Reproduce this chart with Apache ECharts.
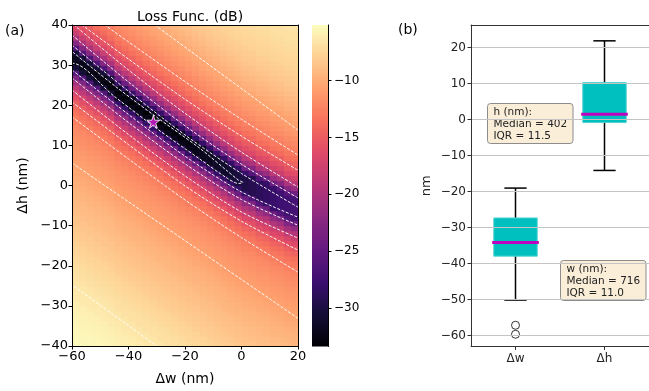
<!DOCTYPE html>
<html><head><meta charset="utf-8">
<script src="https://cdn.jsdelivr.net/npm/echarts@6/dist/echarts.min.js"></script>
<style>html,body{margin:0;padding:0;background:#fff}#c{width:649px;height:391px}</style>
</head><body><div id="c"></div><script>
// ---------- Panel (a): loss map, cell centres (nm) ----------
const dwCenters = [-58.75,-56.25,-53.75,-51.25,-48.75,-46.25,-43.75,-41.25,-38.75,-36.25,-33.75,-31.25,-28.75,-26.25,-23.75,-21.25,
                   -18.75,-16.25,-13.75,-11.25,-8.75,-6.25,-3.75,-1.25,1.25,3.75,6.25,8.75,11.25,13.75,16.25,18.75];
const dhCenters = [-39.375,-38.125,-36.875,-35.625,-34.375,-33.125,-31.875,-30.625,-29.375,-28.125,-26.875,-25.625,-24.375,-23.125,-21.875,-20.625,
                   -19.375,-18.125,-16.875,-15.625,-14.375,-13.125,-11.875,-10.625,-9.375,-8.125,-6.875,-5.625,-4.375,-3.125,-1.875,-0.625,
                   0.625,1.875,3.125,4.375,5.625,6.875,8.125,9.375,10.625,11.875,13.125,14.375,15.625,16.875,18.125,19.375,
                   20.625,21.875,23.125,24.375,25.625,26.875,28.125,29.375,30.625,31.875,33.125,34.375,35.625,36.875,38.125,39.375];
// loss (dB): one list per Δw column, from Δh = -39.375 up to 39.375
const lossColumns = [
 [-5.3,-5.4,-5.5,-5.5,-5.6,-5.7,-5.8,-5.9,-6,-6.2,-6.3,-6.4,-6.5,-6.7,-6.8,-7,-7.1,-7.3,-7.5,-7.6,-7.8,-8,-8.2,-8.3,-8.5,-8.6,-8.8,-9,-9.1,-9.3,-9.4,-9.6,-9.8,-10,-10.2,-10.4,-10.6,-10.8,-11,-11.2,-11.4,-11.6,-11.9,-12.1,-12.5,-12.9,-13.4,-14.1,-14.9,-15.9,-17.1,-18.6,-20.5,-22.9,-26.1,-30.4,-32,-32,-30.4,-26.1,-22.6,-20,-18,-16.6],
 [-5.4,-5.5,-5.5,-5.6,-5.7,-5.8,-5.9,-6,-6.2,-6.3,-6.4,-6.5,-6.7,-6.8,-7,-7.1,-7.3,-7.5,-7.6,-7.8,-8,-8.2,-8.3,-8.5,-8.6,-8.8,-9,-9.1,-9.3,-9.4,-9.6,-9.8,-10,-10.2,-10.4,-10.6,-10.8,-11,-11.2,-11.4,-11.6,-11.9,-12.1,-12.5,-12.9,-13.4,-14.1,-14.9,-15.9,-17.1,-18.6,-20.5,-22.9,-26.1,-30.4,-32.2,-32.2,-30.4,-26.1,-22.6,-20,-18,-16.6,-15.6],
 [-5.5,-5.5,-5.6,-5.7,-5.8,-5.9,-6,-6.2,-6.3,-6.4,-6.5,-6.7,-6.8,-7,-7.1,-7.3,-7.5,-7.6,-7.8,-8,-8.2,-8.3,-8.5,-8.6,-8.8,-9,-9.1,-9.3,-9.4,-9.6,-9.8,-10,-10.2,-10.4,-10.6,-10.8,-11,-11.2,-11.4,-11.6,-11.9,-12.1,-12.5,-12.9,-13.4,-14.1,-14.9,-15.9,-17.1,-18.6,-20.5,-22.9,-26.1,-30.4,-32.4,-32.4,-30.4,-26.1,-22.6,-20,-18,-16.6,-15.6,-14.8],
 [-5.5,-5.6,-5.7,-5.8,-5.9,-6,-6.2,-6.3,-6.4,-6.5,-6.7,-6.8,-7,-7.1,-7.3,-7.5,-7.6,-7.8,-8,-8.2,-8.3,-8.5,-8.6,-8.8,-9,-9.1,-9.3,-9.4,-9.6,-9.8,-10,-10.2,-10.4,-10.6,-10.8,-11,-11.2,-11.4,-11.6,-11.9,-12.1,-12.5,-12.9,-13.4,-14.1,-14.9,-15.9,-17.1,-18.6,-20.5,-22.9,-26.1,-30.4,-32.6,-32.6,-30.4,-26.1,-22.6,-20,-18,-16.6,-15.6,-14.8,-13.9],
 [-5.6,-5.7,-5.8,-5.9,-6,-6.2,-6.3,-6.4,-6.5,-6.7,-6.8,-7,-7.1,-7.3,-7.5,-7.6,-7.8,-8,-8.2,-8.3,-8.5,-8.6,-8.8,-9,-9.1,-9.3,-9.4,-9.6,-9.8,-10,-10.2,-10.4,-10.6,-10.8,-11,-11.2,-11.4,-11.6,-11.9,-12.1,-12.5,-12.9,-13.4,-14.1,-14.9,-15.9,-17.1,-18.6,-20.5,-22.9,-26.1,-30.4,-32.8,-32.8,-30.4,-26.1,-22.6,-20,-18,-16.6,-15.6,-14.8,-13.9,-13.3],
 [-5.7,-5.8,-5.9,-6,-6.2,-6.3,-6.4,-6.5,-6.7,-6.8,-7,-7.1,-7.3,-7.5,-7.6,-7.8,-8,-8.2,-8.3,-8.5,-8.6,-8.8,-9,-9.1,-9.3,-9.4,-9.6,-9.8,-10,-10.2,-10.4,-10.6,-10.8,-11,-11.2,-11.4,-11.6,-11.9,-12.1,-12.5,-12.9,-13.4,-14.1,-14.9,-15.9,-17.1,-18.6,-20.5,-22.9,-26.1,-30.4,-33,-33,-30.4,-26.1,-22.6,-20,-18,-16.6,-15.6,-14.8,-13.9,-13.3,-12.8],
 [-5.9,-6,-6.1,-6.2,-6.4,-6.5,-6.6,-6.8,-6.9,-7,-7.2,-7.4,-7.5,-7.7,-7.9,-8.1,-8.2,-8.4,-8.6,-8.7,-8.9,-9,-9.2,-9.4,-9.5,-9.7,-9.9,-10.1,-10.3,-10.5,-10.7,-10.9,-11.1,-11.3,-11.5,-11.7,-12,-12.3,-12.7,-13.1,-13.7,-14.5,-15.4,-16.5,-17.8,-19.5,-21.6,-24.3,-28.2,-32.1,-33.1,-32.1,-28.2,-24.2,-21.2,-18.9,-17.2,-16.1,-15.2,-14.4,-13.6,-13,-12.5,-12.1],
 [-6,-6.1,-6.2,-6.4,-6.5,-6.6,-6.8,-6.9,-7,-7.2,-7.4,-7.5,-7.7,-7.9,-8.1,-8.2,-8.4,-8.6,-8.7,-8.9,-9,-9.2,-9.4,-9.5,-9.7,-9.9,-10.1,-10.3,-10.5,-10.7,-10.9,-11.1,-11.3,-11.5,-11.7,-12,-12.3,-12.7,-13.1,-13.7,-14.5,-15.4,-16.5,-17.8,-19.5,-21.6,-24.3,-28.2,-32.1,-33.2,-32.1,-28.2,-24.2,-21.2,-18.9,-17.2,-16.1,-15.2,-14.4,-13.6,-13,-12.5,-12.1,-11.7],
 [-6.1,-6.2,-6.4,-6.5,-6.6,-6.8,-6.9,-7,-7.2,-7.4,-7.5,-7.7,-7.9,-8.1,-8.2,-8.4,-8.6,-8.7,-8.9,-9,-9.2,-9.4,-9.5,-9.7,-9.9,-10.1,-10.3,-10.5,-10.7,-10.9,-11.1,-11.3,-11.5,-11.7,-12,-12.3,-12.7,-13.1,-13.7,-14.5,-15.4,-16.5,-17.8,-19.5,-21.6,-24.3,-28.2,-32.1,-33.3,-32.1,-28.2,-24.2,-21.2,-18.9,-17.2,-16.1,-15.2,-14.4,-13.6,-13,-12.5,-12.1,-11.7,-11.3],
 [-6.2,-6.4,-6.5,-6.6,-6.8,-6.9,-7,-7.2,-7.4,-7.5,-7.7,-7.9,-8.1,-8.2,-8.4,-8.6,-8.7,-8.9,-9,-9.2,-9.4,-9.5,-9.7,-9.9,-10.1,-10.3,-10.5,-10.7,-10.9,-11.1,-11.3,-11.5,-11.7,-12,-12.3,-12.7,-13.1,-13.7,-14.5,-15.4,-16.5,-17.8,-19.5,-21.6,-24.3,-28.2,-32.1,-33.3,-32.1,-28.2,-24.2,-21.2,-18.9,-17.2,-16.1,-15.2,-14.4,-13.6,-13,-12.5,-12.1,-11.7,-11.3,-11],
 [-6.4,-6.5,-6.6,-6.8,-6.9,-7,-7.2,-7.4,-7.5,-7.7,-7.9,-8.1,-8.2,-8.4,-8.6,-8.7,-8.9,-9,-9.2,-9.4,-9.5,-9.7,-9.9,-10.1,-10.3,-10.5,-10.7,-10.9,-11.1,-11.3,-11.5,-11.7,-12,-12.3,-12.7,-13.1,-13.7,-14.5,-15.4,-16.5,-17.8,-19.5,-21.6,-24.3,-28.2,-32.1,-33.4,-32.1,-28.2,-24.2,-21.2,-18.9,-17.2,-16.1,-15.2,-14.4,-13.6,-13,-12.5,-12.1,-11.7,-11.3,-11,-10.6],
 [-6.5,-6.6,-6.8,-6.9,-7,-7.2,-7.4,-7.5,-7.7,-7.9,-8.1,-8.2,-8.4,-8.6,-8.7,-8.9,-9,-9.2,-9.4,-9.5,-9.7,-9.9,-10.1,-10.3,-10.5,-10.7,-10.9,-11.1,-11.3,-11.5,-11.7,-12,-12.3,-12.7,-13.1,-13.7,-14.5,-15.4,-16.5,-17.8,-19.5,-21.6,-24.3,-28.2,-32.1,-33.4,-32.1,-28.2,-24.2,-21.2,-18.9,-17.2,-16.1,-15.2,-14.4,-13.6,-13,-12.5,-12.1,-11.7,-11.3,-11,-10.6,-10.3],
 [-6.6,-6.8,-6.9,-7,-7.2,-7.4,-7.5,-7.7,-7.9,-8.1,-8.2,-8.4,-8.6,-8.7,-8.9,-9,-9.2,-9.4,-9.5,-9.7,-9.9,-10.1,-10.3,-10.5,-10.7,-10.9,-11.1,-11.3,-11.5,-11.7,-12,-12.3,-12.7,-13.1,-13.7,-14.5,-15.4,-16.5,-17.8,-19.5,-21.6,-24.3,-28.2,-32.1,-33.4,-32.1,-28.2,-24.2,-21.2,-18.9,-17.2,-16.1,-15.2,-14.4,-13.6,-13,-12.5,-12.1,-11.7,-11.3,-11,-10.6,-10.3,-10],
 [-6.8,-6.9,-7,-7.2,-7.4,-7.5,-7.7,-7.9,-8.1,-8.2,-8.4,-8.6,-8.7,-8.9,-9,-9.2,-9.4,-9.5,-9.7,-9.9,-10.1,-10.3,-10.5,-10.7,-10.9,-11.1,-11.3,-11.5,-11.7,-12,-12.3,-12.7,-13.1,-13.7,-14.5,-15.4,-16.5,-17.8,-19.5,-21.6,-24.3,-28.2,-32.1,-33.3,-32.1,-28.2,-24.2,-21.2,-18.9,-17.2,-16.1,-15.2,-14.4,-13.6,-13,-12.5,-12.1,-11.7,-11.3,-11,-10.6,-10.3,-10,-9.7],
 [-6.9,-7,-7.2,-7.4,-7.5,-7.7,-7.9,-8.1,-8.2,-8.4,-8.6,-8.7,-8.9,-9,-9.2,-9.4,-9.5,-9.7,-9.9,-10.1,-10.3,-10.5,-10.7,-10.9,-11.1,-11.3,-11.5,-11.7,-12,-12.3,-12.7,-13.1,-13.7,-14.5,-15.4,-16.5,-17.8,-19.5,-21.6,-24.3,-28.2,-32.1,-33.2,-32.1,-28.2,-24.2,-21.2,-18.9,-17.2,-16.1,-15.2,-14.4,-13.6,-13,-12.5,-12.1,-11.7,-11.3,-11,-10.6,-10.3,-10,-9.7,-9.4],
 [-7,-7.2,-7.4,-7.5,-7.7,-7.9,-8.1,-8.2,-8.4,-8.6,-8.7,-8.9,-9,-9.2,-9.4,-9.5,-9.7,-9.9,-10.1,-10.3,-10.5,-10.7,-10.9,-11.1,-11.3,-11.5,-11.7,-12,-12.3,-12.7,-13.1,-13.7,-14.5,-15.4,-16.5,-17.8,-19.5,-21.6,-24.3,-28.2,-32.1,-33,-32.1,-28.2,-24.2,-21.2,-18.9,-17.2,-16.1,-15.2,-14.4,-13.6,-13,-12.5,-12.1,-11.7,-11.3,-11,-10.6,-10.3,-10,-9.7,-9.4,-9.1],
 [-7.2,-7.4,-7.5,-7.7,-7.9,-8.1,-8.2,-8.4,-8.6,-8.7,-8.9,-9,-9.2,-9.4,-9.5,-9.7,-9.9,-10.1,-10.3,-10.5,-10.7,-10.9,-11.1,-11.3,-11.5,-11.7,-12,-12.3,-12.7,-13.1,-13.7,-14.5,-15.4,-16.5,-17.8,-19.5,-21.6,-24.3,-28.2,-32.1,-32.8,-32.1,-28.2,-24.2,-21.2,-18.9,-17.2,-16.1,-15.2,-14.4,-13.6,-13,-12.5,-12.1,-11.7,-11.3,-11,-10.6,-10.3,-10,-9.7,-9.4,-9.1,-8.8],
 [-7.4,-7.5,-7.7,-7.9,-8.1,-8.2,-8.4,-8.6,-8.7,-8.9,-9,-9.2,-9.4,-9.5,-9.7,-9.9,-10.1,-10.3,-10.5,-10.7,-10.9,-11.1,-11.3,-11.5,-11.7,-12,-12.3,-12.7,-13.1,-13.7,-14.5,-15.4,-16.5,-17.8,-19.5,-21.6,-24.3,-28.2,-32.1,-32.5,-32.1,-28.2,-24.2,-21.2,-18.9,-17.2,-16.1,-15.2,-14.4,-13.6,-13,-12.5,-12.1,-11.7,-11.3,-11,-10.6,-10.3,-10,-9.7,-9.4,-9.1,-8.8,-8.5],
 [-7.5,-7.7,-7.9,-8.1,-8.2,-8.4,-8.6,-8.7,-8.9,-9,-9.2,-9.4,-9.5,-9.7,-9.9,-10.1,-10.3,-10.5,-10.7,-10.9,-11.1,-11.3,-11.5,-11.7,-12,-12.3,-12.7,-13.1,-13.7,-14.5,-15.4,-16.5,-17.8,-19.5,-21.6,-24.3,-28.2,-32.1,-32.2,-32.1,-28.2,-24.2,-21.2,-18.9,-17.2,-16.1,-15.2,-14.4,-13.6,-13,-12.5,-12.1,-11.7,-11.3,-11,-10.6,-10.3,-10,-9.7,-9.4,-9.1,-8.8,-8.5,-8.3],
 [-7.7,-7.9,-8.1,-8.2,-8.4,-8.6,-8.7,-8.9,-9,-9.2,-9.4,-9.5,-9.7,-9.9,-10.1,-10.3,-10.5,-10.7,-10.9,-11.1,-11.3,-11.5,-11.7,-12,-12.3,-12.7,-13.1,-13.7,-14.5,-15.4,-16.5,-17.8,-19.5,-21.6,-24.3,-28.2,-31.9,-31.9,-31.9,-28.2,-24.2,-21.2,-18.9,-17.2,-16.1,-15.2,-14.4,-13.6,-13,-12.5,-12.1,-11.7,-11.3,-11,-10.6,-10.3,-10,-9.7,-9.4,-9.1,-8.8,-8.5,-8.3,-8.1],
 [-7.9,-8.1,-8.2,-8.4,-8.6,-8.7,-8.9,-9,-9.2,-9.4,-9.5,-9.7,-9.9,-10.1,-10.3,-10.5,-10.7,-10.9,-11.1,-11.3,-11.5,-11.7,-12,-12.3,-12.7,-13.1,-13.7,-14.5,-15.4,-16.5,-17.8,-19.5,-21.6,-24.3,-28.2,-31.4,-31.4,-31.4,-28.2,-24.2,-21.2,-18.9,-17.2,-16.1,-15.2,-14.4,-13.6,-13,-12.5,-12.1,-11.7,-11.3,-11,-10.6,-10.3,-10,-9.7,-9.4,-9.1,-8.8,-8.5,-8.3,-8.1,-7.9],
 [-8.1,-8.2,-8.4,-8.6,-8.7,-8.9,-9,-9.2,-9.4,-9.5,-9.7,-9.9,-10.1,-10.3,-10.5,-10.7,-10.9,-11.1,-11.3,-11.5,-11.7,-12,-12.3,-12.7,-13.1,-13.7,-14.5,-15.4,-16.5,-17.8,-19.5,-21.6,-24.3,-28.2,-31,-31,-31,-28.2,-24.2,-21.2,-18.9,-17.2,-16.1,-15.2,-14.4,-13.6,-13,-12.5,-12.1,-11.7,-11.3,-11,-10.6,-10.3,-10,-9.7,-9.4,-9.1,-8.8,-8.5,-8.3,-8.1,-7.9,-7.7],
 [-8.2,-8.4,-8.6,-8.7,-8.9,-9,-9.2,-9.4,-9.5,-9.7,-9.9,-10.1,-10.3,-10.5,-10.7,-10.9,-11.1,-11.3,-11.5,-11.7,-12,-12.3,-12.7,-13.1,-13.7,-14.5,-15.4,-16.5,-17.8,-19.5,-21.6,-24.3,-28.2,-30.6,-30.6,-30.6,-28.2,-24.2,-21.2,-18.9,-17.2,-16.1,-15.2,-14.4,-13.6,-13,-12.5,-12.1,-11.7,-11.3,-11,-10.6,-10.3,-10,-9.7,-9.4,-9.1,-8.8,-8.5,-8.3,-8.1,-7.9,-7.7,-7.6],
 [-8.4,-8.6,-8.7,-8.9,-9,-9.2,-9.4,-9.5,-9.7,-9.9,-10.1,-10.3,-10.5,-10.7,-10.9,-11.1,-11.3,-11.5,-11.7,-12,-12.3,-12.7,-13.1,-13.7,-14.5,-15.4,-16.5,-17.8,-19.5,-21.6,-24.3,-28.2,-30.2,-30.2,-30.2,-28.2,-24.2,-21.2,-18.9,-17.2,-16.1,-15.2,-14.4,-13.6,-13,-12.5,-12.1,-11.7,-11.3,-11,-10.6,-10.3,-10,-9.7,-9.4,-9.1,-8.8,-8.5,-8.3,-8.1,-7.9,-7.7,-7.6,-7.4],
 [-8.6,-8.7,-8.9,-9,-9.2,-9.4,-9.5,-9.7,-9.9,-10.1,-10.3,-10.5,-10.7,-10.9,-11.1,-11.3,-11.5,-11.7,-12,-12.3,-12.7,-13.1,-13.7,-14.5,-15.4,-16.5,-17.8,-19.5,-21.6,-24.3,-28.2,-29.8,-29.8,-29.8,-28.2,-24.2,-21.2,-18.9,-17.2,-16.1,-15.2,-14.4,-13.6,-13,-12.5,-12.1,-11.7,-11.3,-11,-10.6,-10.3,-10,-9.7,-9.4,-9.1,-8.8,-8.5,-8.3,-8.1,-7.9,-7.7,-7.6,-7.4,-7.3],
 [-8.6,-8.8,-9,-9.1,-9.3,-9.4,-9.6,-9.8,-10,-10.2,-10.4,-10.6,-10.8,-11,-11.2,-11.4,-11.6,-11.9,-12.1,-12.5,-12.9,-13.4,-14.1,-14.9,-15.9,-17.1,-18.6,-20.5,-22.9,-26.1,-29.3,-29.3,-29.3,-29.3,-26.1,-22.6,-20,-18,-16.6,-15.6,-14.8,-13.9,-13.3,-12.8,-12.3,-11.9,-11.5,-11.1,-10.8,-10.5,-10.2,-9.8,-9.5,-9.2,-8.9,-8.7,-8.4,-8.2,-8,-7.8,-7.6,-7.5,-7.3,-7.2],
 [-8.8,-9,-9.1,-9.3,-9.4,-9.6,-9.8,-10,-10.2,-10.4,-10.6,-10.8,-11,-11.2,-11.4,-11.6,-11.9,-12.1,-12.5,-12.9,-13.4,-14.1,-14.9,-15.9,-17.1,-18.6,-20.5,-22.9,-26.1,-28.8,-28.8,-28.8,-28.8,-26.1,-22.6,-20,-18,-16.6,-15.6,-14.8,-13.9,-13.3,-12.8,-12.3,-11.9,-11.5,-11.1,-10.8,-10.5,-10.2,-9.8,-9.5,-9.2,-8.9,-8.7,-8.4,-8.2,-8,-7.8,-7.6,-7.5,-7.3,-7.2,-7],
 [-8.9,-9,-9.2,-9.4,-9.5,-9.7,-9.9,-10.1,-10.3,-10.5,-10.7,-10.9,-11.1,-11.3,-11.5,-11.7,-12,-12.3,-12.7,-13.1,-13.7,-14.5,-15.4,-16.5,-17.8,-19.5,-21.6,-24.3,-28.2,-28.4,-28.4,-28.4,-28.2,-24.2,-21.2,-18.9,-17.2,-16.1,-15.2,-14.4,-13.6,-13,-12.5,-12.1,-11.7,-11.3,-11,-10.6,-10.3,-10,-9.7,-9.4,-9.1,-8.8,-8.5,-8.3,-8.1,-7.9,-7.7,-7.6,-7.4,-7.3,-7.1,-7],
 [-9,-9.2,-9.4,-9.5,-9.7,-9.9,-10.1,-10.3,-10.5,-10.7,-10.9,-11.1,-11.3,-11.5,-11.7,-12,-12.3,-12.7,-13.1,-13.7,-14.5,-15.4,-16.5,-17.8,-19.5,-21.6,-24.3,-28,-28,-28,-28,-28,-24.2,-21.2,-18.9,-17.2,-16.1,-15.2,-14.4,-13.6,-13,-12.5,-12.1,-11.7,-11.3,-11,-10.6,-10.3,-10,-9.7,-9.4,-9.1,-8.8,-8.5,-8.3,-8.1,-7.9,-7.7,-7.6,-7.4,-7.3,-7.1,-7,-6.9],
 [-9.1,-9.3,-9.4,-9.6,-9.8,-10,-10.2,-10.4,-10.6,-10.8,-11,-11.2,-11.4,-11.6,-11.9,-12.1,-12.5,-12.9,-13.4,-14.1,-14.9,-15.9,-17.1,-18.6,-20.5,-22.9,-26.1,-27.6,-27.6,-27.6,-27.6,-26.1,-22.6,-20,-18,-16.6,-15.6,-14.8,-13.9,-13.3,-12.8,-12.3,-11.9,-11.5,-11.1,-10.8,-10.5,-10.2,-9.8,-9.5,-9.2,-8.9,-8.7,-8.4,-8.2,-8,-7.8,-7.6,-7.5,-7.3,-7.2,-7,-6.9,-6.8],
 [-9.3,-9.4,-9.6,-9.8,-10,-10.2,-10.4,-10.6,-10.8,-11,-11.2,-11.4,-11.6,-11.9,-12.1,-12.5,-12.9,-13.4,-14.1,-14.9,-15.9,-17.1,-18.6,-20.5,-22.9,-26.1,-27.3,-27.3,-27.3,-27.3,-26.1,-22.6,-20,-18,-16.6,-15.6,-14.8,-13.9,-13.3,-12.8,-12.3,-11.9,-11.5,-11.1,-10.8,-10.5,-10.2,-9.8,-9.5,-9.2,-8.9,-8.7,-8.4,-8.2,-8,-7.8,-7.6,-7.5,-7.3,-7.2,-7,-6.9,-6.8,-6.7],
 [-9.4,-9.5,-9.7,-9.9,-10.1,-10.3,-10.5,-10.7,-10.9,-11.1,-11.3,-11.5,-11.7,-12,-12.3,-12.7,-13.1,-13.7,-14.5,-15.4,-16.5,-17.8,-19.5,-21.6,-24.3,-27,-27,-27,-27,-27,-24.2,-21.2,-18.9,-17.2,-16.1,-15.2,-14.4,-13.6,-13,-12.5,-12.1,-11.7,-11.3,-11,-10.6,-10.3,-10,-9.7,-9.4,-9.1,-8.8,-8.5,-8.3,-8.1,-7.9,-7.7,-7.6,-7.4,-7.3,-7.1,-7,-6.9,-6.8,-6.6]
];
// contour lines: [Δw, Δh]
const contourLines = [
 [[-62,-23.8],[-28,-41]],
 [[-60,5.6],[20,-33.1]],
 [[-60,17.1],[-40,6.6],[-20,-3.6],[0,-13],[20,-21.6]],
 [[-60,20.8],[-40,10.2],[-20,-0.1],[0,-8.9],[20,-16.1]],
 [[-60,23.8],[-40,12.7],[-20,2.4],[0,-6.6],[20,-13.1]],
 [[-60,26.8],[-40,15.7],[-20,5.4],[0,-3.5],[20,-9.9]],
 [[-60,28.8],[-40,17.7],[-20,7.3],[0,-1.6],[20,-7.9]],
 [[-61,34],[-60,33.4],[-45,24.9],[-30,17],[-15,9.4],[-5,3.6],[-1,1.3],[0.5,0.8],[-1,0.5],[-5,1.8],[-15,6.7],[-30,14.2],[-45,22.2],[-60,30.5],[-61,30]],
 [[-60,35],[-40,23.5],[-20,12.6],[0,3],[20,-5.4]],
 [[-60,37.5],[-40,25.8],[-20,14.9],[0,5.3],[20,-3.1]],
 [[-62,41.5],[-60,40.4],[-40,28.8],[-20,18],[0,8.3],[20,-0.4]],
 [[-58,40.8],[-40,31.5],[-20,21.5],[0,12.3],[20,3.8]],
 [[-50,40.8],[-40,35.8],[-20,25.9],[0,16.5],[20,7.6]],
 [[-32,40.7],[20,13.8]]
];
const optimumPoint = [-31.2, 15.9];
const colorRange = [-33.4, -5.1];
const colorbarTicks = [-30, -25, -20, -15, -10];
const magma = ['#000004','#140e36','#3b0f70','#641a80','#8c2981','#b73779','#de4968','#f7705c','#fe9f6d','#fecf92','#fcfdbf'];

// ---------- Panel (b): box plots ----------
const boxCategories = ['Δw', 'Δh'];
// [lower whisker, Q1, median, Q3, upper whisker]
const boxStats = [[-50.1, -37.9, -34.1, -27.3, -19.0], [-14.1, -0.8, 1.5, 10.3, 21.9]];
const boxOutliers = [[0, -57.1], [0, -59.6]];
const boxTicks = [-60, -50, -40, -30, -20, -10, 0, 10, 20];
const hInfo = ['h (nm):', 'Median = 402', 'IQR = 11.5'];
const wInfo = ['w (nm):', 'Median = 716', 'IQR = 11.0'];

const FONT = 'DejaVu Sans';
const fmt = v => (v < 0 ? '\u2212' + Math.abs(v) : String(v));

const cellData = [];
lossColumns.forEach((col, i) => col.forEach((v, k) => cellData.push([dwCenters[i], dhCenters[k], v])));
const halfW = (dwCenters[1] - dwCenters[0]) / 2;
const halfH = (dhCenters[1] - dhCenters[0]) / 2;

const chart = echarts.init(document.getElementById('c'), null, {renderer: 'canvas'});
const spine = {show: true, onZero: false, lineStyle: {color: '#000', width: 1}};
const spineB = {show: true, onZero: false, lineStyle: {color: '#333', width: 1}};

const series = [
  {
    type: 'custom', xAxisIndex: 0, yAxisIndex: 0, z: 1, clip: true, silent: true,
    data: cellData, encode: {x: 0, y: 1},
    renderItem: (params, api) => {
      const p1 = api.coord([api.value(0) - halfW, api.value(1) + halfH]);
      const p2 = api.coord([api.value(0) + halfW, api.value(1) - halfH]);
      return {type: 'rect', shape: {x: p1[0], y: p1[1], width: p2[0] - p1[0] + 0.6, height: p2[1] - p1[1] + 0.6},
              style: {fill: api.visual('color')}};
    }
  }
];
contourLines.forEach(pts => series.push({
  type: 'line', xAxisIndex: 0, yAxisIndex: 0, z: 3, clip: true, data: pts, showSymbol: false, smooth: 0.3,
  silent: true, lineStyle: {color: '#ffffff', opacity: 0.95, width: 1, type: [3, 1.6]}
}));
series.push({
  type: 'scatter', xAxisIndex: 0, yAxisIndex: 0, z: 4, data: [optimumPoint],
  symbol: 'path://M50,0 L61,35 L98,35 L68,57 L79,91 L50,70 L21,91 L32,57 L2,35 L39,35 Z',
  symbolSize: 13, itemStyle: {color: '#e01ee0', borderColor: '#ffffff', borderWidth: 1}
});
// colorbar
series.push({
  type: 'custom', xAxisIndex: 2, yAxisIndex: 2, z: 1, data: [[0, colorRange[0], colorRange[1]]],
  renderItem: (params, api) => {
    const p1 = api.coord([0, api.value(2)]);
    const p2 = api.coord([1, api.value(1)]);
    return {type: 'rect', shape: {x: p1[0], y: p1[1], width: p2[0] - p1[0], height: p2[1] - p1[1]},
      style: {fill: new echarts.graphic.LinearGradient(0, 1, 0, 0, magma.map((c, i) => ({offset: i / (magma.length - 1), color: c})))}};
  }
});
// box plots
series.push({
  type: 'custom', xAxisIndex: 3, yAxisIndex: 3, z: 3,
  data: boxStats.map((s, i) => [i].concat(s)),
  renderItem: (params, api) => {
    const cx = api.coord([api.value(0), 0])[0];
    const band = api.size([1, 0])[0];
    const y = j => api.coord([api.value(0), api.value(j)])[1];
    const bw = band * 0.244, cw = band * 0.125, mw = band * 0.262;
    const blk = {stroke: '#000', lineWidth: 1.5};
    return {type: 'group', children: [
      {type: 'line', shape: {x1: cx, y1: y(2), x2: cx, y2: y(1)}, style: blk},
      {type: 'line', shape: {x1: cx, y1: y(4), x2: cx, y2: y(5)}, style: blk},
      {type: 'line', shape: {x1: cx - cw, y1: y(1), x2: cx + cw, y2: y(1)}, style: blk},
      {type: 'line', shape: {x1: cx - cw, y1: y(5), x2: cx + cw, y2: y(5)}, style: blk},
      {type: 'rect', shape: {x: cx - bw, y: y(4), width: 2 * bw, height: y(2) - y(4)},
        style: {fill: '#00bfbf', stroke: '#4dd2d2', lineWidth: 1}},
      {type: 'line', shape: {x1: cx - mw, y1: y(3), x2: cx + mw, y2: y(3)}, style: {stroke: '#bf00bf', lineWidth: 3}}
    ]};
  }
});
series.push({
  type: 'scatter', xAxisIndex: 3, yAxisIndex: 3, z: 3, data: boxOutliers, symbol: 'circle', symbolSize: 8,
  itemStyle: {color: 'rgba(0,0,0,0)', borderColor: '#000', borderWidth: 1}
});

function infoBox(lines, left, top, w, h) {
  return {type: 'group', left: left, top: top, children: [
    {type: 'rect', shape: {x: 0, y: 0, width: w, height: h, r: 3},
      style: {fill: 'rgba(245,222,179,0.5)', stroke: '#8c8c8c', lineWidth: 1}},
    {type: 'text', x: 6, y: 2.5, style: {text: lines.join('\n'), font: '10.5px "DejaVu Sans"', fill: '#222', lineHeight: 12}}
  ]};
}

chart.setOption({
  animation: false,
  textStyle: {fontFamily: FONT},
  title: {text: 'Loss Func. (dB)', left: 185, top: 5, textAlign: 'center',
    textStyle: {fontFamily: FONT, fontSize: 14, fontWeight: 'normal', color: '#000'}},
  grid: [
    {left: 72, top: 25, width: 226, height: 321},
    {left: 72, top: 25, width: 226, height: 321, show: false},
    {left: 312, top: 25, width: 16, height: 321.5},
    {left: 471, top: 25, width: 183, height: 321.5}
  ],
  visualMap: {type: 'continuous', show: false, min: colorRange[0], max: colorRange[1], dimension: 2, seriesIndex: 0,
    inRange: {color: magma}},
  xAxis: [
    {type: 'value', gridIndex: 0, min: -60, max: 20, interval: 20, z: 10, axisLine: spine,
     axisTick: {show: true, inside: false, length: 3.5, lineStyle: {color: '#000'}},
     axisLabel: {fontFamily: FONT, fontSize: 13, color: '#000', margin: 4, formatter: fmt},
     splitLine: {show: false}, name: 'Δw (nm)', nameLocation: 'middle', nameGap: 26,
     nameTextStyle: {fontFamily: FONT, fontSize: 14, color: '#000'}},
    {type: 'value', gridIndex: 0, position: 'top', min: -60, max: 20, z: 10, axisLine: spine,
     axisTick: {show: false}, axisLabel: {show: false}, splitLine: {show: false}},
    {type: 'value', gridIndex: 2, min: 0, max: 1, show: false},
    {type: 'category', gridIndex: 3, data: boxCategories, z: 10, axisLine: spineB,
     axisTick: {show: true, alignWithLabel: true, length: 3.5, lineStyle: {color: '#333'}},
     axisLabel: {fontFamily: FONT, fontSize: 12, color: '#222', margin: 6}},
    {type: 'category', gridIndex: 3, position: 'top', data: boxCategories, z: 10, axisLine: spineB,
     axisTick: {show: false}, axisLabel: {show: false}}
  ],
  yAxis: [
    {type: 'value', gridIndex: 0, min: -40, max: 40, interval: 10, z: 10, axisLine: spine,
     axisTick: {show: true, length: 3.5, lineStyle: {color: '#000'}},
     axisLabel: {fontFamily: FONT, fontSize: 13, color: '#000', margin: 4, formatter: fmt},
     splitLine: {show: false}, name: 'Δh (nm)', nameLocation: 'middle', nameGap: 42,
     nameTextStyle: {fontFamily: FONT, fontSize: 14, color: '#000'}},
    {type: 'value', gridIndex: 0, position: 'right', min: -40, max: 40, z: 10, axisLine: spine,
     axisTick: {show: false}, axisLabel: {show: false}, splitLine: {show: false}},
    {type: 'value', gridIndex: 2, position: 'right', min: colorRange[0], max: colorRange[1], z: 10,
     axisLine: spine,
     axisTick: {show: true, length: 3.5, customValues: colorbarTicks, lineStyle: {color: '#000'}},
     axisLabel: {fontFamily: FONT, fontSize: 12, color: '#000', margin: 6, customValues: colorbarTicks, formatter: fmt},
     splitLine: {show: false}},
    {type: 'value', gridIndex: 3, min: -63, max: 26.3, z: 10, axisLine: spineB,
     axisTick: {show: true, length: 3.5, customValues: boxTicks, lineStyle: {color: '#333'}},
     axisLabel: {fontFamily: FONT, fontSize: 12, color: '#222', margin: 5, customValues: boxTicks, formatter: fmt},
     splitLine: {show: true, lineStyle: {color: '#c4c4c4', width: 1}},
     name: 'nm', nameLocation: 'middle', nameGap: 38,
     nameTextStyle: {fontFamily: FONT, fontSize: 13, color: '#222'}}
  ],
  graphic: [
    {type: 'text', left: 5, top: 24, style: {text: '(a)', font: '14px "DejaVu Sans"', fill: '#000'}},
    {type: 'text', left: 398, top: 23, style: {text: '(b)', font: '14px "DejaVu Sans"', fill: '#000'}},
    infoBox(hInfo, 487, 103, 85.5, 40),
    infoBox(wInfo, 560, 260, 85.5, 40)
  ],
  series: series
});
</script></body></html>
